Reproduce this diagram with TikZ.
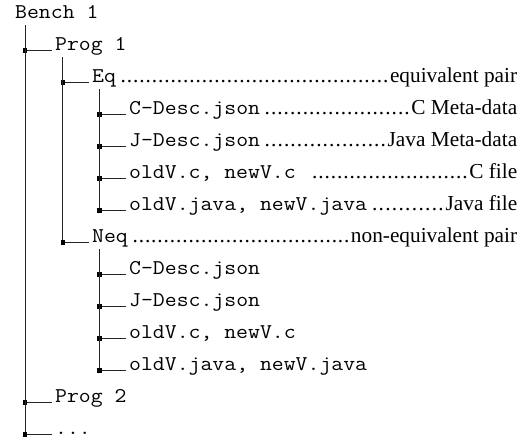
\documentclass[tikz,border=0pt]{standalone}
\usepackage{fontspec}
\setmainfont{Liberation Serif}
\setmonofont[FakeStretch=1.1]{Latin Modern Mono}
\usetikzlibrary{calc}
\newcommand{\leaderdots}{\xleaders\hbox to 6.2pt{\hss.\hss}\hfill}
\newcommand{\notedrow}[3]{\hbox to #1pt{\texttt{#2}\hspace{4pt}%
  \fontsize{21.3}{24}\rmfamily\selectfont\leaderdots\hspace{1pt}#3}}

\begin{document}
\begin{tikzpicture}[
  x=1pt, y=-1pt,
  entry/.style={anchor=base west, inner sep=0pt,
    font=\fontsize{21}{24}\selectfont\ttfamily},
  branch/.style={line width=1pt, black!85},
  knot/.style={rectangle, fill=black, inner sep=0pt, minimum size=4.4pt},
]

\useasboundingbox (0,0) rectangle (532,439);

% =============================================
% Entries of the tree
% =============================================
\node[entry] (bench) at (15,18.5) {Bench 1};

\node[entry] (prog1) at (55,50.5) {Prog 1};

\node[entry] (eq) at (92,82.5) {\notedrow{425}{Eq}{equivalent pair}};
\node[entry] (eqcdesc) at (129,114.5) {\notedrow{388}{C-Desc.json}{C Meta-data}};
\node[entry] (eqjdesc) at (129,146.5) {\notedrow{388}{J-Desc.json}{Java Meta-data}};
\node[entry] (eqcfile) at (129,178.5) {\notedrow{388}{oldV.c, newV.c~}{C file}};
\node[entry] (eqjfile) at (129,210.5) {\notedrow{388}{oldV.java, newV.java}{Java file}};

\node[entry] (neq) at (92,242.5) {\notedrow{425}{Neq}{non-equivalent pair}};
\node[entry] (neqcdesc) at (129,274.5) {C-Desc.json};
\node[entry] (neqjdesc) at (129,306.5) {J-Desc.json};
\node[entry] (neqcfile) at (129,338.5) {oldV.c, newV.c};
\node[entry] (neqjfile) at (129,370.5) {oldV.java, newV.java};

\node[entry] (prog2) at (55,402.5) {Prog 2};
\node[entry] (more) at (55,434.5) {...};

% =============================================
% Trunks hanging below each parent
% =============================================
\coordinate (bench-v) at ([xshift=10pt,yshift=-6.5pt]bench.base west);
\coordinate (prog1-v) at ([xshift=7.7pt,yshift=-6.5pt]prog1.base west);
\coordinate (eq-v) at ([xshift=7.3pt,yshift=-6.5pt]eq.base west);
\coordinate (neq-v) at ([xshift=7.3pt,yshift=-6.5pt]neq.base west);

% =============================================
% Branches: parent trunk -> child
% =============================================
\foreach \kid in {prog1,prog2,more}
  \draw[branch] (bench-v) |- node[knot] {} ([xshift=-3pt]\kid.base west);

\foreach \kid in {eq,neq}
  \draw[branch] (prog1-v) |- node[knot] {} ([xshift=-3.5pt]\kid.base west);

\foreach \kid in {eqcdesc,eqjdesc,eqcfile,eqjfile}
  \draw[branch] (eq-v) |- node[knot] {} ([xshift=-3.5pt]\kid.base west);

\foreach \kid in {neqcdesc,neqjdesc,neqcfile,neqjfile}
  \draw[branch] (neq-v) |- node[knot] {} ([xshift=-3.5pt]\kid.base west);

\end{tikzpicture}
\end{document}
